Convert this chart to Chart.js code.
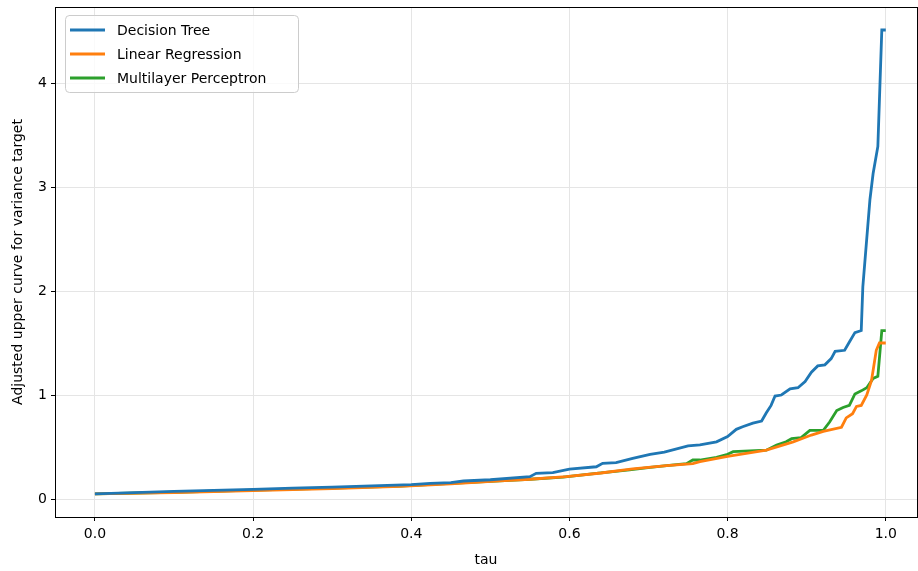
<!DOCTYPE html>
<html>
<head>
<meta charset="utf-8">
<script src="https://cdn.jsdelivr.net/npm/chart.js@4/dist/chart.umd.min.js"></script>
<style>
html,body{margin:0;padding:0;background:#fff;}
#wrap{width:918px;height:571px;}
</style>
</head>
<body>
<div id="wrap"><canvas id="c" width="918" height="571"></canvas></div>
<script>
const seriesNames = ["Decision Tree", "Linear Regression", "Multilayer Perceptron"];
const seriesColors = ["#1f77b4", "#ff7f0e", "#2ca02c"];

const dtTau = [0, 0.05, 0.1, 0.15, 0.2, 0.25, 0.3, 0.35, 0.4, 0.424, 0.45, 0.466, 0.5, 0.55, 0.558, 0.579, 0.6, 0.634, 0.642, 0.659, 0.68, 0.702, 0.72, 0.75, 0.765, 0.786, 0.8, 0.811, 0.819, 0.832, 0.843, 0.849, 0.855, 0.86, 0.868, 0.879, 0.889, 0.898, 0.906, 0.914, 0.923, 0.931, 0.936, 0.948, 0.954, 0.961, 0.969, 0.971, 0.98, 0.984, 0.99, 0.995, 1.0];
const dtVal = [0.05, 0.062, 0.073, 0.083, 0.093, 0.104, 0.115, 0.127, 0.138, 0.15, 0.158, 0.173, 0.185, 0.215, 0.247, 0.253, 0.288, 0.31, 0.343, 0.35, 0.39, 0.43, 0.45, 0.51, 0.52, 0.55, 0.6, 0.67, 0.695, 0.73, 0.75, 0.83, 0.9, 0.99, 1.0, 1.06, 1.07, 1.13, 1.22, 1.28, 1.29, 1.35, 1.42, 1.43, 1.51, 1.6, 1.62, 2.04, 2.88, 3.13, 3.39, 4.51, 4.51];

const lrTau = [0, 0.1, 0.2, 0.3, 0.386, 0.45, 0.512, 0.55, 0.596, 0.64, 0.68, 0.723, 0.756, 0.765, 0.8, 0.849, 0.883, 0.906, 0.921, 0.944, 0.95, 0.958, 0.963, 0.969, 0.976, 0.982, 0.988, 0.992, 1.0];
const lrVal = [0.05, 0.062, 0.082, 0.1, 0.122, 0.146, 0.175, 0.19, 0.215, 0.25, 0.29, 0.32, 0.34, 0.36, 0.41, 0.47, 0.55, 0.615, 0.65, 0.69, 0.78, 0.82, 0.89, 0.9, 1.0, 1.14, 1.43, 1.5, 1.5];

const mlpTau = [0, 0.1, 0.2, 0.3, 0.386, 0.45, 0.512, 0.55, 0.592, 0.634, 0.676, 0.702, 0.723, 0.748, 0.756, 0.765, 0.786, 0.8, 0.807, 0.849, 0.862, 0.874, 0.881, 0.893, 0.904, 0.921, 0.929, 0.938, 0.946, 0.954, 0.961, 0.969, 0.976, 0.984, 0.99, 0.995, 1.0];
const mlpVal = [0.05, 0.065, 0.085, 0.105, 0.125, 0.15, 0.175, 0.19, 0.21, 0.247, 0.28, 0.305, 0.322, 0.34, 0.375, 0.375, 0.4, 0.43, 0.455, 0.47, 0.52, 0.55, 0.58, 0.59, 0.66, 0.66, 0.74, 0.85, 0.88, 0.9, 1.01, 1.04, 1.07, 1.16, 1.18, 1.62, 1.62];

const xTicks = [0, 0.2, 0.4, 0.6, 0.8, 1.0];
const yTicks = [0, 1, 2, 3, 4];
const xLabel = "tau";
const yLabel = "Adjusted upper curve for variance target";

function pts(t, v) { return t.map((x, i) => ({x: x, y: v[i]})); }
const allTau = [dtTau, lrTau, mlpTau];
const allVal = [dtVal, lrVal, mlpVal];

const FONT = "'DejaVu Sans', sans-serif";

const framePlugin = {
  id: 'frame',
  afterDatasetsDraw(chart) {
    const {ctx, chartArea: a} = chart;
    ctx.save();
    ctx.strokeStyle = '#000';
    ctx.lineWidth = 1;
    ctx.strokeRect(Math.round(a.left) + 0.5, Math.round(a.top) + 0.5, Math.round(a.right - a.left), Math.round(a.bottom - a.top));
    // legend
    const lx = 65, ly = 15, lw = 233, lh = 77, r = 4;
    ctx.fillStyle = 'rgba(255,255,255,0.8)';
    ctx.strokeStyle = '#cccccc';
    ctx.beginPath();
    ctx.moveTo(lx + r, ly + 0.5);
    ctx.arcTo(lx + lw + 0.5, ly + 0.5, lx + lw + 0.5, ly + lh, r);
    ctx.arcTo(lx + lw + 0.5, ly + lh + 0.5, lx, ly + lh + 0.5, r);
    ctx.arcTo(lx + 0.5, ly + lh + 0.5, lx + 0.5, ly, r);
    ctx.arcTo(lx + 0.5, ly + 0.5, lx + lw, ly + 0.5, r);
    ctx.closePath();
    ctx.fill();
    ctx.stroke();
    ctx.font = "14px " + FONT;
    ctx.textBaseline = 'middle';
    ctx.textAlign = 'left';
    chart.data.datasets.forEach((ds, i) => {
      const y = 30 + i * 24;
      ctx.strokeStyle = ds.borderColor;
      ctx.lineWidth = 2.8;
      ctx.beginPath();
      ctx.moveTo(70, y);
      ctx.lineTo(105, y);
      ctx.stroke();
      ctx.fillStyle = '#000';
      ctx.fillText(ds.label, 117, y + 1);
    });
    ctx.restore();
  }
};

new Chart(document.getElementById('c'), {
  type: 'line',
  data: {
    datasets: seriesNames.map((n, i) => ({
      label: n,
      data: pts(allTau[i], allVal[i]),
      borderColor: seriesColors[i],
      backgroundColor: seriesColors[i],
      borderWidth: 2.8,
      pointRadius: 0,
      tension: 0,
      fill: false
    }))
  },
  options: {
    responsive: false,
    animation: false,
    devicePixelRatio: 1,
    layout: {padding: {top: 7, right: 1, left: 0, bottom: 0}},
    plugins: {legend: {display: false}, tooltip: {enabled: false}},
    scales: {
      x: {
        type: 'linear',
        min: -0.0505,
        max: 1.0395,
        afterFit: s => { s.height = 54; s.paddingLeft = 0; s.paddingRight = 0; },
        afterBuildTicks: s => { s.ticks = xTicks.map(v => ({value: v})); },
        ticks: {
          color: '#000', font: {family: FONT, size: 14}, padding: 5,
          maxRotation: 0, autoSkip: false,
          callback: v => Number(v).toFixed(1)
        },
        grid: {color: '#e5e5e5', lineWidth: 1, tickColor: '#000', tickLength: 4, drawTicks: true},
        border: {display: false},
        title: {display: true, text: xLabel, color: '#000', font: {family: FONT, size: 14}, padding: {top: 0, bottom: 2}}
      },
      y: {
        type: 'linear',
        min: -0.173,
        max: 4.731,
        afterFit: s => { s.width = 55; s.paddingTop = 0; s.paddingBottom = 0; },
        afterBuildTicks: s => { s.ticks = yTicks.map(v => ({value: v})); },
        ticks: {
          color: '#000', font: {family: FONT, size: 14}, padding: 4, autoSkip: false,
          callback: v => String(v)
        },
        grid: {color: '#e5e5e5', lineWidth: 1, tickColor: '#000', tickLength: 4},
        border: {display: false},
        title: {display: true, text: yLabel, color: '#000', font: {family: FONT, size: 14}, padding: {top: 10, bottom: 0}}
      }
    }
  },
  plugins: [framePlugin]
});
</script>
</body>
</html>
